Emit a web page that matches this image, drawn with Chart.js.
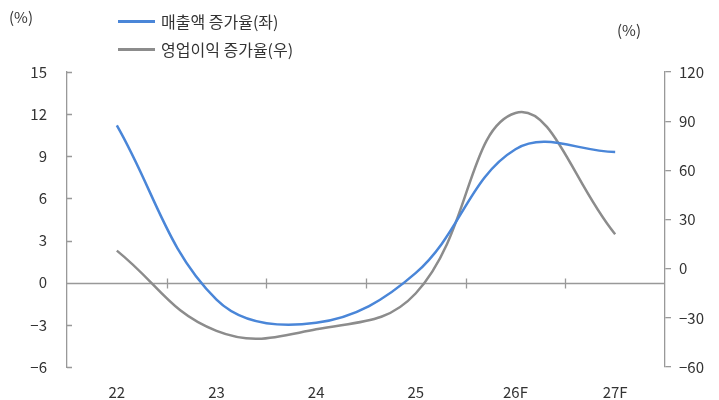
<!DOCTYPE html>
<html>
<head>
<meta charset="utf-8">
<script src="https://cdn.jsdelivr.net/npm/chart.js@4.4.1/dist/chart.umd.min.js"></script>
<style>
    html, body { margin: 0; padding: 0; background: #fff; }
    #wrap { position: relative; width: 719px; height: 400px; font-family: "Noto Sans CJK KR", "Noto Sans", sans-serif; color: #333; }
    #chart { position: absolute; left: 0; top: 0; }
    .unit { position: absolute; font-size: 15px; line-height: 18px; }
    .legend { position: absolute; left: 118px; font-size: 16px; line-height: 20px; display: flex; align-items: center; }
    .legend i { display: inline-block; width: 37px; height: 3px; margin-right: 6px; }
</style>
</head>
<body>
<div id="wrap">
    <canvas id="chart" width="719" height="400"></canvas>
    <div class="unit" style="left:9px; top:8px;">(%)</div>
    <div class="unit" style="left:617px; top:21px;">(%)</div>
    <div class="legend" style="top:11px;"><i style="background:#4a86d8"></i>매출액 증가율(좌)</div>
    <div class="legend" style="top:39px;"><i style="background:#8c8c8c"></i>영업이익 증가율(우)</div>
</div>
<script>
    "use strict";

    var years = ["22", "23", "24", "25", "26F", "27F"];
    var salesGrowth = [11.2, -1.2, -2.85, 0.7, 9.5, 9.3];     // left axis
    var profitGrowth = [11, -38, -37, -15, 95, 21];           // right axis
    var leftTicks = [-6, -3, 0, 3, 6, 9, 12, 15];
    var rightTicks = [-60, -30, 0, 30, 60, 90, 120];

    var axisColor = "#999999";
    var fmt = function (v) {
        return String(v).replace("-", "\u2212");
    };

    // zero line, boundary ticks on it, and inward ticks on the left axis
    var axisMarks = {
        id: "axisMarks",
        beforeDatasetsDraw: function (chart) {
            var ctx = chart.ctx;
            var area = chart.chartArea;
            var x = chart.scales.x;
            var yl = chart.scales.yl;
            var zeroY = Math.round(yl.getPixelForValue(0)) + 0.5;
            ctx.save();
            ctx.strokeStyle = axisColor;
            ctx.lineWidth = 1.3;
            ctx.beginPath();
            ctx.moveTo(area.left, zeroY);
            ctx.lineTo(area.right, zeroY);
            var half = (x.getPixelForValue(1) - x.getPixelForValue(0)) / 2;
            for (var i = 0; i < years.length - 1; i++) {
                var bx = Math.round(x.getPixelForValue(i) + half) + 0.5;
                ctx.moveTo(bx, zeroY - 5);
                ctx.lineTo(bx, zeroY + 5);
            }
            leftTicks.forEach(function (t) {
                var ty = Math.round(yl.getPixelForValue(t)) + 0.5;
                ctx.moveTo(area.left, ty);
                ctx.lineTo(area.left + 5, ty);
            });
            ctx.stroke();
            ctx.restore();
        }
    };

    var tickFont = { family: "'Noto Sans CJK KR', 'Noto Sans', sans-serif", size: 15 };

    new Chart(document.getElementById("chart"), {
        type: "line",
        data: {
            labels: years,
            datasets: [{
                label: "매출액 증가율(좌)",
                data: salesGrowth,
                yAxisID: "yl",
                borderColor: "#4a86d8",
                borderWidth: 2.5,
                pointRadius: 0,
                tension: 0.38,
                fill: false
            }, {
                label: "영업이익 증가율(우)",
                data: profitGrowth,
                yAxisID: "yr",
                borderColor: "#8c8c8c",
                borderWidth: 2.5,
                pointRadius: 0,
                tension: 0.42,
                fill: false
            }]
        },
        plugins: [axisMarks],
        options: {
            responsive: false,
            animation: false,
            events: [],
            layout: { padding: { top: 72, bottom: 0, left: 0, right: 0 } },
            plugins: {
                legend: { display: false },
                tooltip: { enabled: false }
            },
            scales: {
                x: {
                    offset: true,
                    border: { display: false },
                    grid: { display: false },
                    ticks: { color: "#333", font: tickFont, padding: 8, maxRotation: 0 },
                    afterFit: function (s) { s.height = 33; }
                },
                yl: {
                    position: "left",
                    min: -6,
                    max: 15,
                    afterBuildTicks: function (s) {
                        s.ticks = leftTicks.map(function (v) { return { value: v }; });
                    },
                    border: { display: true, color: axisColor, width: 1.3 },
                    grid: { drawOnChartArea: false, drawTicks: false },
                    ticks: { color: "#333", font: tickFont, padding: 20, callback: fmt },
                    afterFit: function (s) { s.width = 67; }
                },
                yr: {
                    position: "right",
                    min: -60,
                    max: 120,
                    afterBuildTicks: function (s) {
                        s.ticks = rightTicks.map(function (v) { return { value: v }; });
                    },
                    border: { display: true, color: axisColor, width: 1.3 },
                    grid: { drawOnChartArea: false, drawTicks: true, tickLength: 6, color: axisColor, lineWidth: 1.3 },
                    ticks: { color: "#333", font: tickFont, padding: 8, callback: fmt },
                    afterFit: function (s) { s.width = 54; }
                }
            }
        }
    });
</script>
</body>
</html>
